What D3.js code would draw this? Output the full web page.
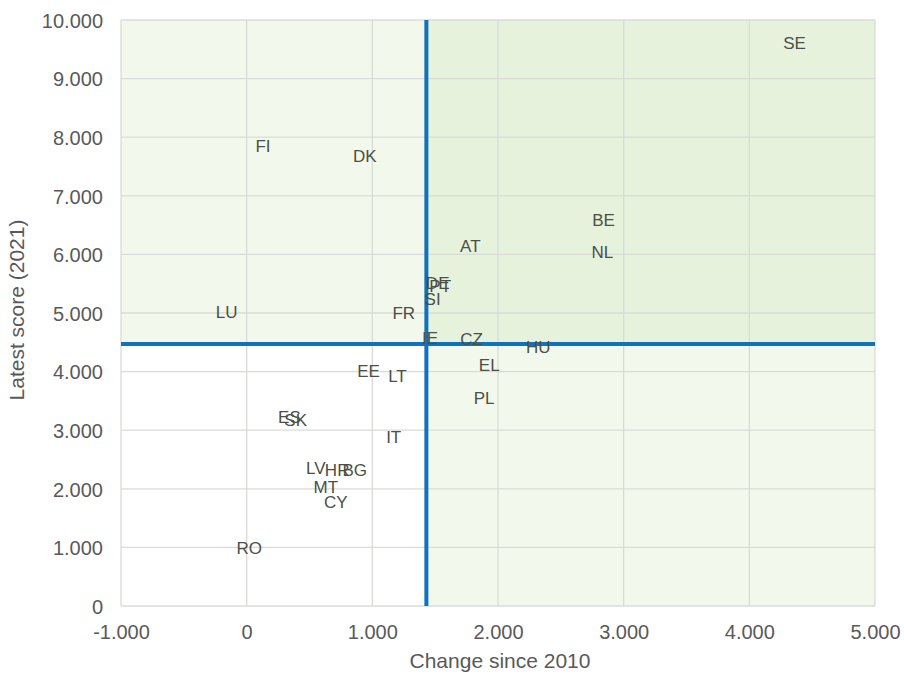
<!DOCTYPE html>
<html><head><meta charset="utf-8">
<script src="https://cdn.jsdelivr.net/npm/d3@7"></script>
<style>body{margin:0;background:#fff;}svg{display:block;font-family:"Liberation Sans",Arial,sans-serif;}</style>
</head><body><svg id="c" width="904" height="674"></svg>
<script>
const countries = ["SE","FI","DK","BE","NL","AT","DE","PT","SI","LU","FR","IE","CZ","HU","EL","EE","LT","PL","ES","SK","IT","LV","HR","BG","MT","CY","RO"];
const change2010 = [4.36,0.13,0.94,2.84,2.83,1.78,1.52,1.54,1.48,-0.16,1.25,1.46,1.79,2.32,1.93,0.97,1.20,1.89,0.34,0.39,1.17,0.55,0.72,0.86,0.63,0.71,0.02];
const latest2021 = [9.61,7.85,7.68,6.59,6.04,6.14,5.51,5.46,5.24,5.02,5.00,4.57,4.56,4.42,4.11,4.01,3.92,3.55,3.23,3.17,2.88,2.35,2.32,2.32,2.03,1.77,0.99];
const xTicks = [-1,0,1,2,3,4,5];
const yTicks = [0,1,2,3,4,5,6,7,8,9,10];
const avgChange = 1.43;
const avgLatest = 4.47;

const svg = d3.select("#c");
const L=121, R=875, T=20, B=606;
const x = d3.scaleLinear().domain([-1,5]).range([L,R]);
const y = d3.scaleLinear().domain([0,10]).range([B,T]);
const fmt = d => d===0 ? "0" : d3.format(".3f")(d).replace("\u2212","-");

// quadrants
svg.append("rect").attr("x",L).attr("y",T).attr("width",x(avgChange)-L).attr("height",y(avgLatest)-T).attr("fill","#f3f8ed");
svg.append("rect").attr("x",x(avgChange)).attr("y",T).attr("width",R-x(avgChange)).attr("height",y(avgLatest)-T).attr("fill","#e7f2dd");
svg.append("rect").attr("x",x(avgChange)).attr("y",y(avgLatest)).attr("width",R-x(avgChange)).attr("height",B-y(avgLatest)).attr("fill","#f3f8ed");

// grid
const g = svg.append("g");
g.selectAll(".vx").data(xTicks).join("line").attr("x1",d=>x(d)).attr("x2",d=>x(d)).attr("y1",T).attr("y2",B).attr("stroke","#d9dcd6").attr("stroke-width",1.3);
g.selectAll(".hy").data(yTicks).join("line").attr("x1",L).attr("x2",R).attr("y1",d=>y(d)).attr("y2",d=>y(d)).attr("stroke","#d9dcd6").attr("stroke-width",1.3);

// axes
const xa = svg.append("g").attr("transform",`translate(0,${B})`).call(d3.axisBottom(x).tickValues(xTicks).tickFormat(fmt).tickSize(0));
xa.select(".domain").remove();
xa.selectAll("text").attr("y",33).attr("dy",0).attr("font-size",20).attr("fill","#595959").attr("font-family","Liberation Sans, Arial, sans-serif");
const ya = svg.append("g").attr("transform",`translate(${L},0)`).call(d3.axisLeft(y).tickValues(yTicks).tickFormat(fmt).tickSize(0));
ya.select(".domain").remove();
ya.selectAll("text").attr("x",-18).attr("dy","0.36em").attr("font-size",20).attr("fill","#595959").attr("font-family","Liberation Sans, Arial, sans-serif");

// average lines
svg.append("line").attr("x1",x(avgChange)).attr("x2",x(avgChange)).attr("y1",T).attr("y2",B).attr("stroke","#0f72ba").attr("stroke-width",4);
svg.append("line").attr("x1",L).attr("x2",R).attr("y1",y(avgLatest)).attr("y2",y(avgLatest)).attr("stroke","#0f72ba").attr("stroke-width",4);

// labels
svg.append("g").selectAll("text").data(countries).join("text")
  .attr("x",(d,i)=>x(change2010[i])).attr("y",(d,i)=>y(latest2021[i]))
  .attr("text-anchor","middle").attr("dy","0.36em")
  .attr("font-size",17).attr("fill","#4b5046").text(d=>d);

// titles
svg.append("text").attr("x",500).attr("y",668).attr("text-anchor","middle").attr("font-size",21).attr("fill","#595959").text("Change since 2010");
svg.append("text").attr("transform","translate(24,310) rotate(-90)").attr("text-anchor","middle").attr("font-size",21).attr("fill","#595959").text("Latest score (2021)");
</script></body></html>
